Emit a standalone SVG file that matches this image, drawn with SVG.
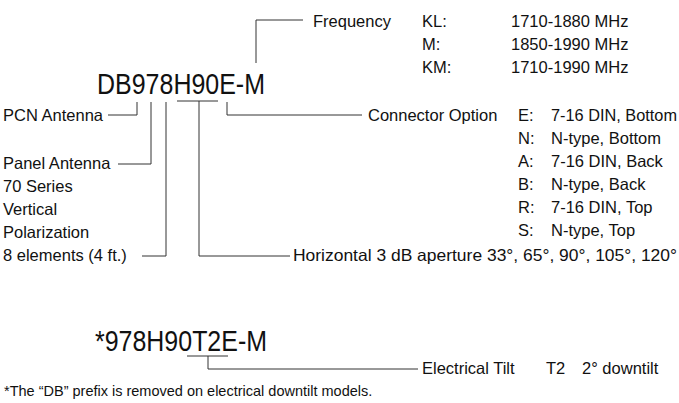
<svg xmlns="http://www.w3.org/2000/svg" width="679" height="403" viewBox="0 0 679 403">
<style>
text{font-family:"Liberation Sans",Arial,sans-serif;fill:#111;}
.l{font-size:16.5px;}
.big{font-size:29.5px;}
.fn{font-size:14.5px;}
.c{fill:none;stroke:#333;stroke-width:1;}
</style>
<rect width="679" height="403" fill="#fff"/>
<g id="connectors">
<path class="c" d="M303,20 H256 V63"/>
<path class="c" d="M108,115 H137 V102"/>
<path class="c" d="M118,164 H151 V102"/>
<path class="c" d="M142,256 H166 V102"/>
<path class="c" d="M177,101 H218"/>
<path class="c" d="M199,101 V256 H290"/>
<path class="c" d="M227,102 V115 H362"/>
<path class="c" d="M187,356 H228"/>
<path class="c" d="M208,356 V369 H418"/>
</g>
<g id="code-main"><text class="big" x="97" y="94" textLength="168" lengthAdjust="spacingAndGlyphs">DB978H90E-M</text></g>
<g id="frequency">
<text class="l" x="313" y="27">Frequency</text>
<text class="l" x="422" y="27">KL:</text><text class="l" x="511" y="27">1710-1880 MHz</text>
<text class="l" x="422" y="50">M:</text><text class="l" x="511" y="50">1850-1990 MHz</text>
<text class="l" x="422" y="73">KM:</text><text class="l" x="511" y="73">1710-1990 MHz</text>
</g>
<g id="pcn"><text class="l" x="3" y="121">PCN Antenna</text></g>
<g id="panel">
<text class="l" x="3" y="169">Panel Antenna</text>
<text class="l" x="3" y="192">70 Series</text>
<text class="l" x="3" y="215">Vertical</text>
<text class="l" x="3" y="238">Polarization</text>
</g>
<g id="elements"><text class="l" x="3" y="261">8 elements (4 ft.)</text></g>
<g id="connector">
<text class="l" x="368" y="121">Connector Option</text>
<text class="l" x="518" y="121">E:</text><text class="l" x="551" y="121" textLength="126" lengthAdjust="spacingAndGlyphs">7-16 DIN, Bottom</text>
<text class="l" x="518" y="144">N:</text><text class="l" x="551" y="144">N-type, Bottom</text>
<text class="l" x="518" y="167">A:</text><text class="l" x="551" y="167">7-16 DIN, Back</text>
<text class="l" x="518" y="190">B:</text><text class="l" x="551" y="190">N-type, Back</text>
<text class="l" x="518" y="213">R:</text><text class="l" x="551" y="213">7-16 DIN, Top</text>
<text class="l" x="518" y="236">S:</text><text class="l" x="551" y="236">N-type, Top</text>
</g>
<g id="aperture"><text class="l" x="293" y="261" textLength="384" lengthAdjust="spacingAndGlyphs">Horizontal 3 dB aperture 33°, 65°, 90°, 105°, 120°</text></g>
<g id="code-tilt"><text class="big" x="95" y="351" textLength="172" lengthAdjust="spacingAndGlyphs">*978H90T2E-M</text></g>
<g id="tilt">
<text class="l" x="422" y="374">Electrical Tilt</text>
<text class="l" x="546" y="374">T2</text>
<text class="l" x="582" y="374">2° downtilt</text>
</g>
<g id="footnote"><text class="fn" x="4" y="396">*The “DB” prefix is removed on electrical downtilt models.</text></g>
</svg>
